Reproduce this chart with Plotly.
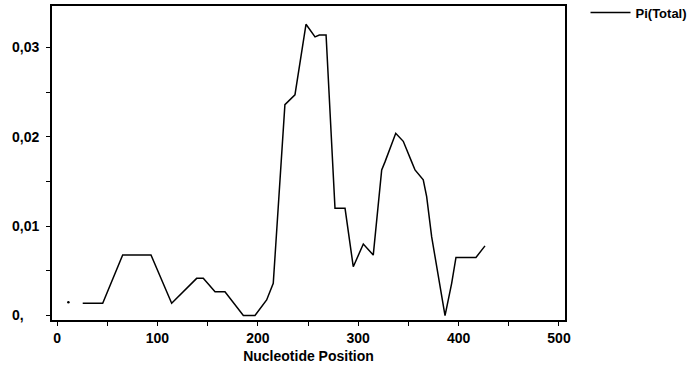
import plotly.graph_objects as go

# Sliding-window nucleotide diversity, Pi(Total)
positions = [25.6, 45.5, 65.4, 93.6, 114.2, 139.1, 145.7, 157.4, 167.3, 185.6,
             197.2, 208.8, 215.4, 227.0, 237.0, 248.0, 257.0, 261.3, 268.0, 276.9,
             286.9, 295.1, 305.1, 315.0, 323.4, 326.7, 337.4, 344.9, 353.3, 356.6,
             364.8, 368.2, 373.2, 386.5, 393.1, 397.4, 417.3, 426.3]
pi_total = [0.00137, 0.00137, 0.00677, 0.00677, 0.00137, 0.00416, 0.00416, 0.00266, 0.00266, 0.0,
            0.0, 0.00174, 0.0036, 0.0236, 0.0247, 0.0326, 0.0312, 0.0314, 0.0314, 0.0120,
            0.0120, 0.00546, 0.0080, 0.00677, 0.0163, 0.0172, 0.0204, 0.0195, 0.0172, 0.0163,
            0.0152, 0.0133, 0.0088, 0.0, 0.0036, 0.0065, 0.0065, 0.0078]
# isolated first window value
lone_position = [11.3]
lone_pi = [0.0015]

y_tick_vals = [0, 0.01, 0.02, 0.03]
y_tick_text = ["0,\u00a0\u00a0\u00a0\u00a0\u00a0", "0,01\u00a0", "0,02\u00a0", "0,03\u00a0"]
x_tick_vals = [0, 100, 200, 300, 400, 500]

fam = "Liberation Sans, Arial, sans-serif"
font = dict(family=fam, size=14, color="black")

fig = go.Figure()
fig.add_trace(go.Scatter(x=positions, y=pi_total, mode="lines", name="<b>Pi(Total)</b>",
                         line=dict(color="black", width=1.5)))
fig.add_trace(go.Scatter(x=lone_position, y=lone_pi, mode="markers", showlegend=False,
                         marker=dict(color="black", size=2.5)))

fig.update_layout(
    width=694, height=370,
    margin=dict(l=52, r=129, t=6, b=50, autoexpand=False),
    paper_bgcolor="white", plot_bgcolor="white",
    font=font,
    showlegend=True,
    legend=dict(x=1.04, y=1.027, xanchor="left", yanchor="top",
                bgcolor="rgba(0,0,0,0)", font=dict(size=13, family=fam, color="black"),
                itemwidth=40),
    xaxis=dict(range=[-5, 506], tickvals=x_tick_vals,
               ticktext=[f"<b>{v}</b>" for v in x_tick_vals],
               ticks="outside", ticklen=4, tickcolor="black", tickwidth=1,
               minor=dict(dtick=50, ticks="outside", ticklen=4, tickcolor="black", tickwidth=1),
               showline=True, linecolor="black", linewidth=2, mirror=True,
               showgrid=False, zeroline=False,
               title=dict(text="<b>Nucleotide Position</b>", standoff=6, font=font)),
    yaxis=dict(range=[-0.0005, 0.03465], tickvals=y_tick_vals,
               ticktext=[f"<b>{t}</b>" for t in y_tick_text],
               ticks="outside", ticklen=4, tickcolor="black", tickwidth=1,
               minor=dict(dtick=0.005, tick0=0, ticks="outside", ticklen=4, tickcolor="black", tickwidth=1),
               showline=True, linecolor="black", linewidth=2, mirror=True,
               showgrid=False, zeroline=False),
)

fig.write_html("out.html", config={"displayModeBar": False},
               post_script="document.body.style.margin='0';")
